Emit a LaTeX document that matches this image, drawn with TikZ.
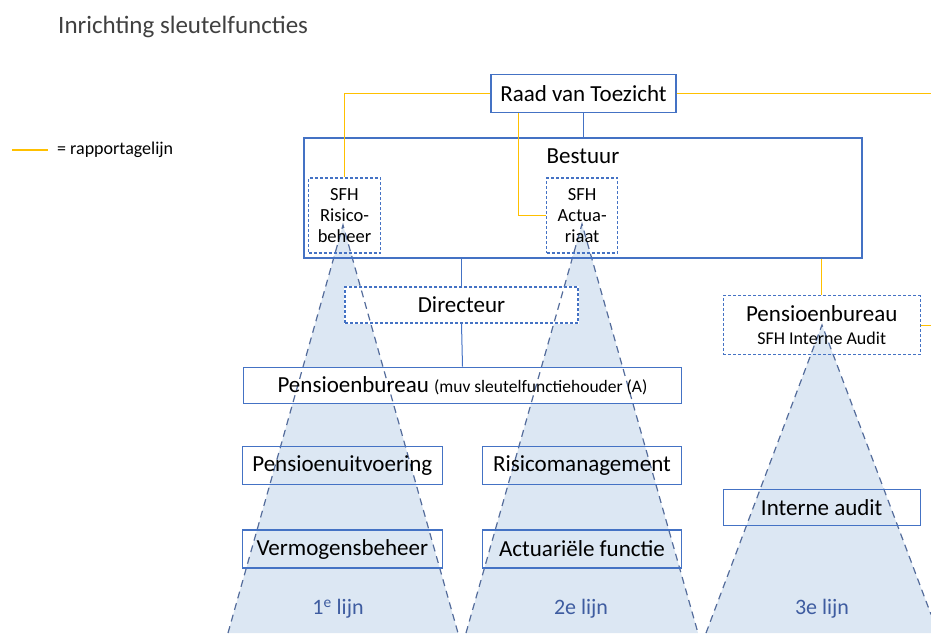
\documentclass[tikz,border=0pt]{standalone}
\usepackage{fontspec}
\setmainfont{Carlito}
\usetikzlibrary{positioning}

\definecolor{kaderblauw}{RGB}{68,114,196}
\definecolor{rapgeel}{RGB}{255,192,0}
\definecolor{kegelvul}{RGB}{220,231,243}
\definecolor{kegelrand}{RGB}{84,108,155}
\definecolor{lijnblauw}{RGB}{62,92,160}
\definecolor{titelgrijs}{RGB}{64,64,64}

\pgfdeclarelayer{kegels}
\pgfdeclarelayer{wit}
\pgfdeclarelayer{randen}
\pgfsetlayers{kegels,wit,randen,main}

\newcommand{\grootfont}{\fontsize{23}{27}\selectfont}
\newcommand{\kleinfont}{\fontsize{18.5}{21}\selectfont}

\tikzset{
  box/.style={draw=kaderblauw, line width=1.2pt, inner sep=0pt, minimum height=36pt,
    font=\grootfont, text=black},
  stippelbox/.style={box, dash pattern=on 3pt off 2pt},
  sfhbox/.style={stippelbox, font=\kleinfont, align=center, minimum width=72pt, minimum height=75pt},
  rap/.style={draw=rapgeel, line width=1.5pt},
  verbind/.style={draw=kaderblauw, line width=1pt},
  kegel/.style={fill=kegelvul},
  kegellijn/.style={draw=kegelrand, line width=1.2pt, dash pattern=on 7pt off 5pt},
  lijnlabel/.style={font=\fontsize{22}{26}\selectfont, text=lijnblauw}
}

\begin{document}
\begin{tikzpicture}[x=1pt, y=-1pt]
  \useasboundingbox (0,0) rectangle (931,633);
  % Titel en legenda
  \node[anchor=base west, font=\fontsize{25}{29}\selectfont, text=titelgrijs, inner sep=0pt]
    (titel) at (58,33.5) {Inrichting sleutelfuncties};
  \coordinate (leg1) at (12,150);
  \coordinate (leg2) at (48,150);
  \node[anchor=west, inner sep=0pt, font=\fontsize{18}{20}\selectfont] (legtekst) at (57,150) {= rapportagelijn};
  % Organen
  \node[box, minimum width=185pt, minimum height=38pt] (raad) at (583.5,93.5) {Raad van Toezicht};
  \node[box, minimum width=558pt, minimum height=120pt,
    label={[font=\grootfont, anchor=north, inner sep=0pt, yshift=-11pt]north:Bestuur}] (bestuur) at (583,198) {};
  \node[sfhbox] (sfhrisico) at (344.5,215.5) {SFH\\Risico-\\beheer};
  \node[sfhbox, minimum width=71pt] (sfhact) at (582.2,215.5) {SFH\\Actua-\\riaat};
  \node[stippelbox, minimum width=233pt] (dir) at (461.5,305) {Directeur};
  \node[box, minimum width=438pt] (pba) at (462.5,385.3)
    {Pensioenbureau {\fontsize{17.5}{20}\selectfont (muv sleutelfunctiehouder (A)}};
  \node[box, minimum width=200pt, minimum height=38pt] (uitvoering) at (342.3,465.8) {Pensioenuitvoering};
  \node[box, minimum width=200pt, minimum height=38pt] (vermogen) at (342.3,549) {Vermogensbeheer};
  \node[box, minimum width=199pt, minimum height=38pt] (risico) at (582,465.8) {Risicomanagement};
  \node[box, minimum width=199pt, minimum height=38pt] (actuarieel) at (582,549) {Actuariële functie};
  \node[stippelbox, minimum width=197pt, minimum height=59pt, align=center] (pbia) at (821.7,325.3)
    {Pensioenbureau\\[-4pt]{\fontsize{18}{21}\selectfont SFH Interne Audit}};
  \node[box, minimum width=197pt] (audit) at (821.7,507.8) {Interne audit};
  % Lijnen
  \node[lijnlabel] (lijn1) at (338,609) {1\textsuperscript{e} lijn};
  \node[lijnlabel] (lijn2) at (581,609) {2e lijn};
  \node[lijnlabel] (lijn3) at (822,609) {3e lijn};
  \coordinate (k1top) at (343,225);
  \coordinate (k1l) at (228,633);
  \coordinate (k1r) at (458,633);
  \coordinate (k2top) at (582,224);
  \coordinate (k2l) at (466,633);
  \coordinate (k2r) at (698,633);
  \coordinate (k3top) at (822,325);
  \coordinate (k3l) at (706,633);
  \coordinate (k3r) at (931,633);
  \coordinate (k3rand) at (931,614.4);
  \begin{pgfonlayer}{kegels}
    \fill[kegel] (k1top) -- (k1l) -- (k1r) -- cycle;
    \fill[kegel] (k2top) -- (k2l) -- (k2r) -- cycle;
    \fill[kegel] (k3top) -- (k3l) -- (k3r) -- (k3rand) -- cycle;
  \end{pgfonlayer}
  \begin{pgfonlayer}{wit}
    \fill[white] (dir.south west) rectangle (dir.north east);
    \fill[white] (pba.south west) rectangle (pba.north east);
  \end{pgfonlayer}
  \begin{pgfonlayer}{randen}
    \draw[kegellijn] (k1l) -- (k1top) -- (k1r);
    \draw[kegellijn] (k2l) -- (k2top) -- (k2r);
    \draw[kegellijn] (k3l) -- (k3top) -- (k3rand);
  \end{pgfonlayer}
  % Verbindingen
  \coordinate (rechtsboven) at (931,93.5);
  \coordinate (rechtsmidden) at (931,325.3);
  \draw[verbind] (raad.south) -- (raad.south |- bestuur.north);
  \draw[verbind] (bestuur.south -| dir.north) -- (dir.north);
  \draw[verbind] (dir.south) -- (pba.north);
  % Rapportagelijnen
  \draw[rap] (leg1) -- (leg2);
  \draw[rap] (raad.west) -| (sfhrisico.north);
  \draw[rap] ([xshift=28pt]raad.south west) |- (sfhact.west);
  \draw[rap] (raad.east) -- (rechtsboven);
  \draw[rap] (bestuur.south -| pbia.north) -- (pbia.north);
  \draw[rap] (pbia.east) -- (rechtsmidden);
\end{tikzpicture}
\end{document}
